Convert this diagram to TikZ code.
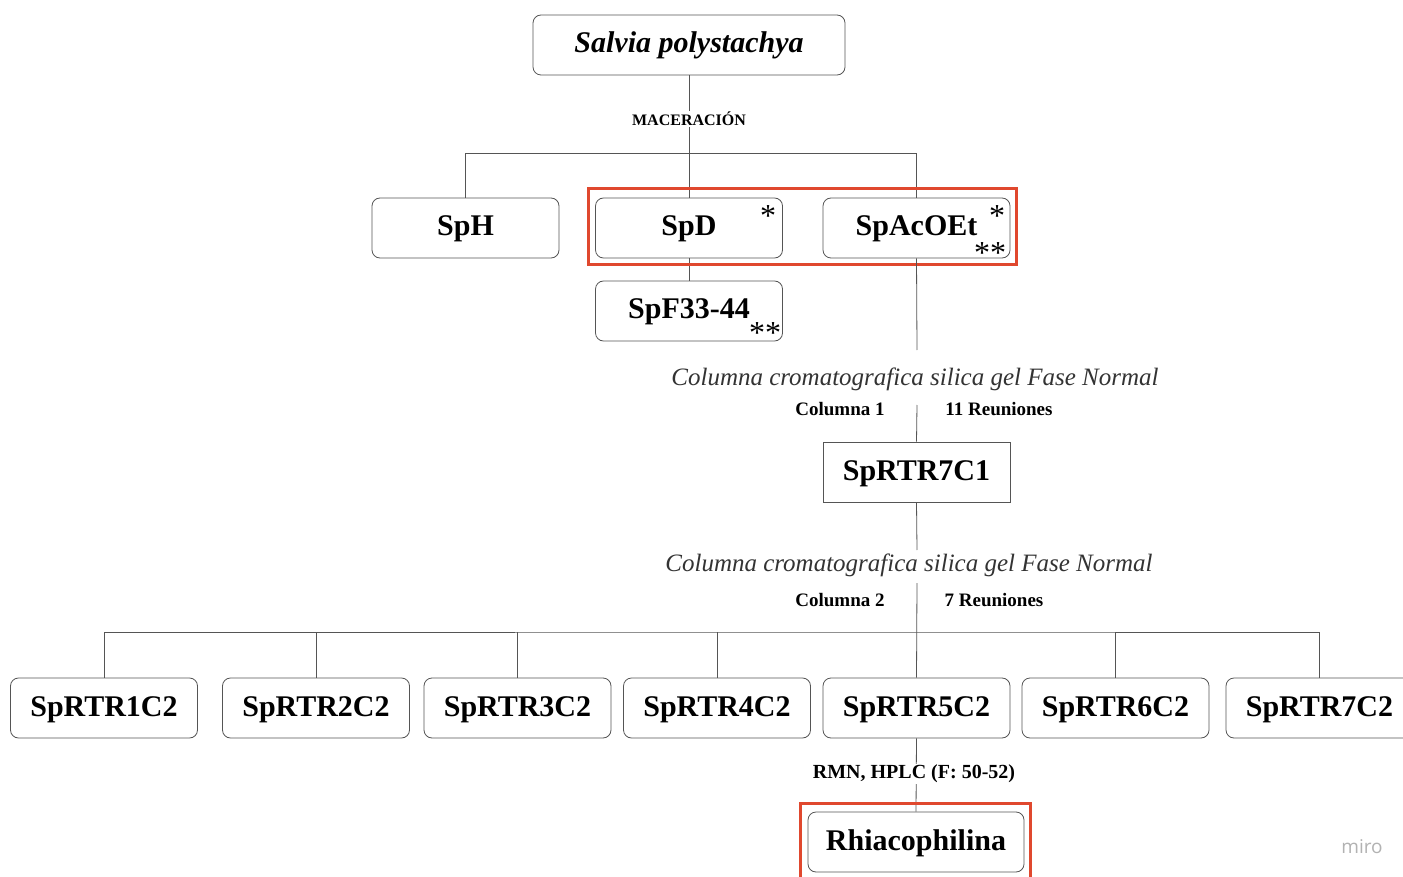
\documentclass[tikz,border=0pt]{standalone}
\usepackage{fontspec}
\setmainfont{Liberation Serif}
\newfontfamily\mirofont{Open Sans}
\definecolor{hlred}{HTML}{E0482E}
\definecolor{linegray}{HTML}{555555}
\tikzset{
  rbox/.style={draw=linegray, rounded corners=8pt, minimum width=187pt, minimum height=60pt, inner sep=0pt, text height=20pt, text depth=4pt, line width=0.8pt, font=\bfseries\fontsize{30}{32}\selectfont},
  sqbox/.style={draw=linegray, minimum width=187pt, minimum height=60pt, inner sep=0pt, text height=20pt, text depth=4pt, line width=0.8pt, font=\bfseries\fontsize{30}{32}\selectfont},
  conn/.style={draw=linegray, line width=0.8pt},
  lbl/.style={font=\bfseries\fontsize{16}{18}\selectfont, inner sep=1pt, fill=white},
  sublbl/.style={font=\bfseries\fontsize{19}{21}\selectfont, inner sep=1pt},
  coltext/.style={font=\itshape\fontsize{25}{27}\selectfont, text=black!80, inner sep=1pt},
  astx/.style={font=\fontsize{32}{32}\selectfont, inner sep=0pt, anchor=base},
  hlbox/.style={draw=hlred, line width=3pt},
}
\begin{document}
\begin{tikzpicture}[x=1pt,y=-1pt]
\useasboundingbox (0,0) rectangle (1403,877);
\fill[white] (0,0) rectangle (1403,877);
% top
\node[rbox, minimum width=312pt, font=\bfseries\itshape\fontsize{30}{32}\selectfont] (salvia) at (689,45) {Salvia polystachya};
\node[rbox] (sph) at (465.5,228) {SpH};
\node[rbox] (spd) at (689,228) {SpD};
\node[rbox] (spacoet) at (916.5,228) {SpAcOEt};
\node[rbox] (spf) at (689,311) {SpF33-44};
\coordinate (h1) at (689,153);
\draw[conn] (salvia.south) -- (h1);
\draw[conn] (sph.north) |- (h1);
\draw[conn] (spacoet.north) |- (h1);
\draw[conn] (h1) -- (spd.north);
\draw[conn] (spd.south) -- (spf.north);
\node[lbl] (mac) at (689,119) {MACERACIÓN};
% asterisks
\node[astx] (a1) at (768,227) {*};
\node[astx] (a2) at (997,227) {*};
\node[astx] (a3) at (990,264) {**};
\node[astx] (a4) at (765,343) {**};
% highlight 1
\draw[hlbox] (588,189) rectangle (1016,265);
% column 1
\coordinate (c1a) at (917,350);
\coordinate (c1b) at (917,405);
\draw[conn] (spacoet.south) -- (c1a);
\node[coltext] (col1) at (915,379) {Columna cromatografica silica gel Fase Normal};
\node[sublbl] (cn1) at (840,409) {Columna 1};
\node[sublbl] (r1) at (999,409) {11 Reuniones};
\node[sqbox] (c1) at (916.5,472) {SpRTR7C1};
\draw[conn] (c1b) -- (c1.north);
% column 2
\coordinate (c2a) at (917,550);
\coordinate (c2b) at (917,583);
\draw[conn] (c1.south) -- (c2a);
\node[coltext] (col2) at (909,565) {Columna cromatografica silica gel Fase Normal};
\node[sublbl] (cn2) at (840,600) {Columna 2};
\node[sublbl] (r2) at (994,600) {7 Reuniones};
% bottom row
\node[rbox] (b1) at (104,708) {SpRTR1C2};
\node[rbox] (b2) at (316,708) {SpRTR2C2};
\node[rbox] (b3) at (517.5,708) {SpRTR3C2};
\node[rbox] (b4) at (717,708) {SpRTR4C2};
\node[rbox] (b5) at (916.5,708) {SpRTR5C2};
\node[rbox] (b6) at (1115.5,708) {SpRTR6C2};
\node[rbox] (b7) at (1319.5,708) {SpRTR7C2};
\coordinate (h2) at (917,632);
\draw[conn] (b1.north) |- (h2) -| (b7.north);
\draw[conn] (c2b) -- (b5.north);
\foreach \n in {b2,b3,b4,b6} \draw[conn] (\n.north) -- (\n.north |- h2);
% final
\node[rbox, minimum width=216pt] (rhia) at (916,842) {Rhiacophilina};
\draw[conn] (b5.south) -- (rhia.north);
\node[lbl, font=\bfseries\fontsize{20}{22}\selectfont] (rmn) at (914,774) {RMN, HPLC (F: 50-52)};
\draw[hlbox] (800,803) rectangle (1030,885);
\node[font=\mirofont\fontsize{19}{20}\selectfont, text=black!30] (miro) at (1362,847) {miro};
\end{tikzpicture}
\end{document}
